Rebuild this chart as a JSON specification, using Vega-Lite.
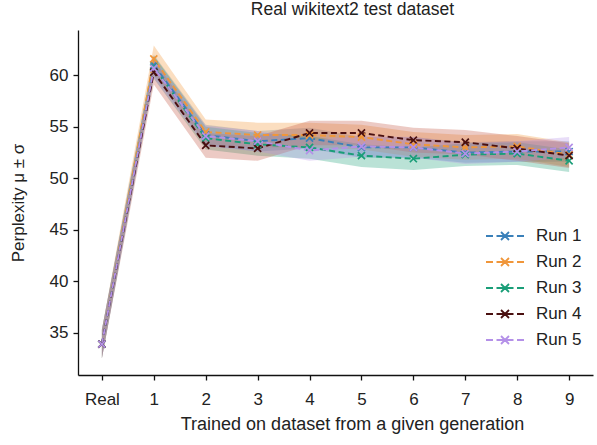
{
  "$schema": "https://vega.github.io/schema/vega-lite/v6.json",
  "width": 515,
  "height": 345,
  "autosize": "none",
  "padding": {"left": 78, "top": 30, "right": 4, "bottom": 70},
  "background": "white",
  "config": {
    "font": "Liberation Sans",
    "view": {"stroke": null},
    "axis": {"grid": false, "domainColor": "#111", "tickColor": "#111", "domainWidth": 1.3, "tickWidth": 1.3, "labelColor": "#222", "titleColor": "#222", "labelFontSize": 17, "titleFontSize": 18, "titleFontWeight": "normal", "tickSize": 5, "labelPadding": 5}
  },
  "title": {"text": "Real wikitext2 test dataset", "fontSize": 17.5, "fontWeight": "normal", "color": "#222", "anchor": "middle", "offset": 12, "dx": 17},
  "data": {"values": [
    {"run": "Run 1", "gen": 0, "mean": 33.9, "lo": 32.5, "hi": 35.3},
    {"run": "Run 1", "gen": 1, "mean": 61.0, "lo": 60.0, "hi": 62.0},
    {"run": "Run 1", "gen": 2, "mean": 54.2, "lo": 53.2, "hi": 55.2},
    {"run": "Run 1", "gen": 3, "mean": 53.6, "lo": 52.6, "hi": 54.6},
    {"run": "Run 1", "gen": 4, "mean": 53.9, "lo": 52.9, "hi": 54.9},
    {"run": "Run 1", "gen": 5, "mean": 53.0, "lo": 52.0, "hi": 54.0},
    {"run": "Run 1", "gen": 6, "mean": 53.0, "lo": 52.0, "hi": 54.0},
    {"run": "Run 1", "gen": 7, "mean": 52.5, "lo": 51.5, "hi": 53.5},
    {"run": "Run 1", "gen": 8, "mean": 52.6, "lo": 51.6, "hi": 53.6},
    {"run": "Run 1", "gen": 9, "mean": 52.6, "lo": 51.6, "hi": 53.6},
    {"run": "Run 2", "gen": 0, "mean": 33.9, "lo": 32.5, "hi": 35.3},
    {"run": "Run 2", "gen": 1, "mean": 61.6, "lo": 60.3, "hi": 62.9},
    {"run": "Run 2", "gen": 2, "mean": 54.5, "lo": 53.3, "hi": 55.7},
    {"run": "Run 2", "gen": 3, "mean": 54.2, "lo": 53.0, "hi": 55.4},
    {"run": "Run 2", "gen": 4, "mean": 54.2, "lo": 53.0, "hi": 55.4},
    {"run": "Run 2", "gen": 5, "mean": 54.0, "lo": 52.8, "hi": 55.2},
    {"run": "Run 2", "gen": 6, "mean": 53.3, "lo": 52.1, "hi": 54.5},
    {"run": "Run 2", "gen": 7, "mean": 53.0, "lo": 51.8, "hi": 54.2},
    {"run": "Run 2", "gen": 8, "mean": 53.1, "lo": 51.9, "hi": 54.3},
    {"run": "Run 2", "gen": 9, "mean": 52.3, "lo": 51.1, "hi": 53.5},
    {"run": "Run 3", "gen": 0, "mean": 33.9, "lo": 32.5, "hi": 35.3},
    {"run": "Run 3", "gen": 1, "mean": 60.8, "lo": 59.7, "hi": 61.9},
    {"run": "Run 3", "gen": 2, "mean": 53.9, "lo": 52.8, "hi": 55.0},
    {"run": "Run 3", "gen": 3, "mean": 53.3, "lo": 52.2, "hi": 54.4},
    {"run": "Run 3", "gen": 4, "mean": 53.0, "lo": 51.9, "hi": 54.1},
    {"run": "Run 3", "gen": 5, "mean": 52.2, "lo": 51.1, "hi": 53.3},
    {"run": "Run 3", "gen": 6, "mean": 51.9, "lo": 50.8, "hi": 53.0},
    {"run": "Run 3", "gen": 7, "mean": 52.3, "lo": 51.2, "hi": 53.4},
    {"run": "Run 3", "gen": 8, "mean": 52.4, "lo": 51.3, "hi": 53.5},
    {"run": "Run 3", "gen": 9, "mean": 51.7, "lo": 50.6, "hi": 52.8},
    {"run": "Run 4", "gen": 0, "mean": 33.9, "lo": 32.5, "hi": 35.3},
    {"run": "Run 4", "gen": 1, "mean": 60.3, "lo": 59.1, "hi": 61.5},
    {"run": "Run 4", "gen": 2, "mean": 53.2, "lo": 52.0, "hi": 54.4},
    {"run": "Run 4", "gen": 3, "mean": 52.9, "lo": 51.7, "hi": 54.1},
    {"run": "Run 4", "gen": 4, "mean": 54.4, "lo": 53.2, "hi": 55.6},
    {"run": "Run 4", "gen": 5, "mean": 54.4, "lo": 53.2, "hi": 55.6},
    {"run": "Run 4", "gen": 6, "mean": 53.7, "lo": 52.5, "hi": 54.9},
    {"run": "Run 4", "gen": 7, "mean": 53.5, "lo": 52.3, "hi": 54.7},
    {"run": "Run 4", "gen": 8, "mean": 52.9, "lo": 51.7, "hi": 54.1},
    {"run": "Run 4", "gen": 9, "mean": 52.2, "lo": 51.0, "hi": 53.4},
    {"run": "Run 5", "gen": 0, "mean": 33.9, "lo": 32.5, "hi": 35.3},
    {"run": "Run 5", "gen": 1, "mean": 60.7, "lo": 59.7, "hi": 61.7},
    {"run": "Run 5", "gen": 2, "mean": 54.1, "lo": 53.1, "hi": 55.1},
    {"run": "Run 5", "gen": 3, "mean": 53.6, "lo": 52.6, "hi": 54.6},
    {"run": "Run 5", "gen": 4, "mean": 52.7, "lo": 51.7, "hi": 53.7},
    {"run": "Run 5", "gen": 5, "mean": 53.1, "lo": 52.1, "hi": 54.1},
    {"run": "Run 5", "gen": 6, "mean": 53.0, "lo": 52.0, "hi": 54.0},
    {"run": "Run 5", "gen": 7, "mean": 52.4, "lo": 51.4, "hi": 53.4},
    {"run": "Run 5", "gen": 8, "mean": 52.6, "lo": 51.6, "hi": 53.6},
    {"run": "Run 5", "gen": 9, "mean": 53.0, "lo": 52.0, "hi": 54.0}
  ]},
  "encoding": {
    "x": {"field": "gen", "type": "quantitative", "scale": {"domain": [-0.46, 9.46], "nice": false, "zero": false},
      "axis": {"values": [0,1,2,3,4,5,6,7,8,9], "labelExpr": "datum.value == 0 ? 'Real' : datum.label", "title": "Trained on dataset from a given generation", "titlePadding": 8, "labelPadding": 11, "titleX": 274}}
  },
  "layer": [
    {
      "mark": {"type": "area", "opacity": 0.3},
      "encoding": {
        "y": {"field": "lo", "type": "quantitative", "scale": {"domain": [30.9, 64.4], "nice": false, "zero": false},
          "axis": {"values": [35,40,45,50,55,60], "title": "Perplexity μ ± σ", "titlePadding": 22, "titleFontSize": 17}},
        "y2": {"field": "hi"},
        "fill": {"field": "run", "type": "nominal", "legend": null,
          "scale": {"range": ["#3a80b9","#f2922e","#1a9e78","#c0503c","#b490e8"]}},
        "detail": {"field": "run"}
      }
    },
    {
      "mark": {"type": "line", "strokeDash": [6, 3.5], "strokeWidth": 1.9},
      "encoding": {
        "y": {"field": "mean", "type": "quantitative"},
        "stroke": {"field": "run", "type": "nominal",
          "scale": {"domain": ["Run 1","Run 2","Run 3","Run 4","Run 5"], "range": ["#3a80b9","#f0963a","#1a9e78","#4a1010","#b490e8"]},
          "legend": {"title": null, "orient": "none", "legendX": 416, "legendY": 195, "labelFontSize": 17, "labelColor": "#222",
            "symbolType": "M-1.9,0H-1.2M-0.85,0H0.85M1.2,0H1.9M-0.4,-0.4L0.4,0.4M-0.4,0.4L0.4,-0.4",
            "symbolSize": 400, "symbolStrokeWidth": 1.8, "symbolFillColor": "transparent", "labelOffset": 20, "rowPadding": 7}}
      }
    },
    {
      "mark": {"type": "point", "shape": "M-1,-1L1,1M-1,1L1,-1", "filled": false, "size": 50, "strokeWidth": 1.7, "opacity": 1},
      "encoding": {
        "y": {"field": "mean", "type": "quantitative"},
        "stroke": {"field": "run", "type": "nominal"}
      }
    }
  ]
}
